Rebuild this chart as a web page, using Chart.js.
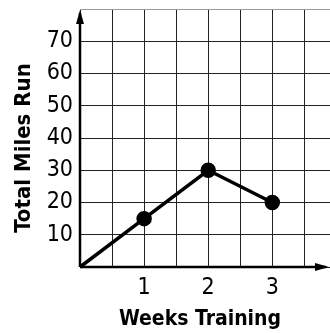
<!DOCTYPE html>
<html>
<head>
<meta charset="utf-8">
<script src="https://cdn.jsdelivr.net/npm/chart.js@4"></script>
<style>
	body { margin: 0; background: #fff; }
	#wrap { width: 330px; height: 333px; }
</style>
</head>
<body>
<div id="wrap"><canvas id="miles" width="330" height="333"></canvas></div>
<script>
const weeks = [0, 1, 2, 3];
const totalMiles = [0, 15, 30, 20];
const xTickLabels = ['1', '2', '3'];
const yTickLabels = ['10', '20', '30', '40', '50', '60', '70'];
const xTitle = 'Weeks Training';
const yTitle = 'Total Miles Run';

const labelFont = "'DejaVu Sans Condensed', 'Liberation Sans', sans-serif";

// axis lines with arrow heads + both titles, drawn over the grid
const arrowAxes = {
	id: 'arrowAxes',
	afterDraw(chart) {
		const { ctx, chartArea: a } = chart;
		ctx.save();
		ctx.strokeStyle = '#000';
		ctx.fillStyle = '#000';
		ctx.lineWidth = 2.5;
		ctx.beginPath();
		ctx.moveTo(a.left, a.bottom);
		ctx.lineTo(a.left, a.top + 4);
		ctx.moveTo(a.left, a.bottom);
		ctx.lineTo(a.right - 4, a.bottom);
		ctx.stroke();
		// up arrow
		ctx.beginPath();
		ctx.moveTo(a.left, a.top + 1);
		ctx.lineTo(a.left - 4, a.top + 15);
		ctx.lineTo(a.left + 4, a.top + 15);
		ctx.closePath();
		ctx.fill();
		// right arrow
		ctx.beginPath();
		ctx.moveTo(a.right - 1, a.bottom);
		ctx.lineTo(a.right - 15, a.bottom - 4);
		ctx.lineTo(a.right - 15, a.bottom + 4);
		ctx.closePath();
		ctx.fill();
		// titles sit a little off-centre in the book
		ctx.font = "bold 21px " + labelFont;
		ctx.textAlign = 'center';
		ctx.textBaseline = 'middle';
		ctx.fillText(xTitle, 200, 320);
		ctx.translate(24, 148);
		ctx.rotate(-Math.PI / 2);
		ctx.font = "bold 22px " + labelFont;
		ctx.fillText(yTitle, 0, 0);
		ctx.restore();
	}
};

new Chart(document.getElementById('miles').getContext('2d'), {
	type: 'scatter',
	data: {
		datasets: [{
			data: weeks.map((w, i) => ({ x: w, y: totalMiles[i] })),
			showLine: true,
			borderColor: '#000',
			borderWidth: 3.5,
			backgroundColor: '#000',
			pointBackgroundColor: '#000',
			pointBorderColor: '#000',
			pointRadius: weeks.map(w => (w === 0 ? 0 : 6)),
			clip: false,
		}],
	},
	options: {
		responsive: false,
		animation: false,
		layout: { autoPadding: false, padding: { top: 9, right: 0, bottom: 0, left: 0 } },
		plugins: { legend: { display: false }, tooltip: { enabled: false } },
		scales: {
			x: {
				type: 'linear',
				min: 0,
				max: 3.9,
				afterBuildTicks: s => { s.ticks = [0, 0.5, 1, 1.5, 2, 2.5, 3, 3.5].map(v => ({ value: v })); },
				afterFit: s => { s.height = 66; s.paddingLeft = 0; s.paddingRight = 0; },
				border: { display: false },
				grid: { color: '#222', lineWidth: 1, drawTicks: false },
				ticks: {
					padding: 7,
					color: '#000',
					font: { family: labelFont, size: 23 },
					autoSkip: false,
					maxRotation: 0,
					callback: v => (xTickLabels.includes(String(v)) ? String(v) : ''),
				},
			},
			y: {
				min: 0,
				max: 80,
				afterFit: s => { s.width = 80; s.paddingTop = 0; s.paddingBottom = 0; },
				border: { display: false },
				grid: {
					drawTicks: false,
					color: ctx => (ctx.tick && ctx.tick.value === 80 ? '#999' : '#222'),
					lineWidth: 1,
				},
				ticks: {
					stepSize: 10,
					autoSkip: false,
					padding: 7,
					color: '#000',
					font: { family: labelFont, size: 23 },
					callback: v => (yTickLabels.includes(String(v)) ? String(v) : ''),
				},
			},
		},
	},
	plugins: [arrowAxes],
});
</script>
</body>
</html>
